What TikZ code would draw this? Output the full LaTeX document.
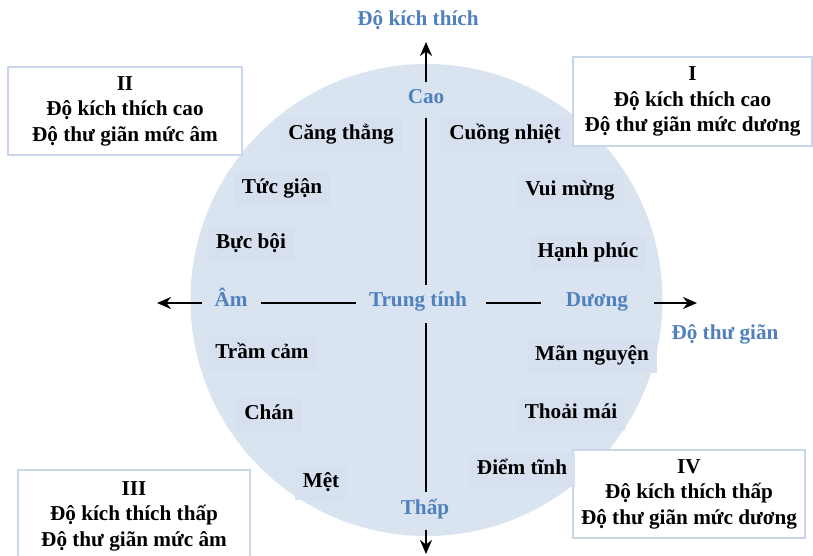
\documentclass[tikz,border=0pt]{standalone}
\usepackage{fontspec}
\setmainfont{Liberation Serif}
\usetikzlibrary{arrows.meta}
\definecolor{circfill}{HTML}{DAE3F0}
\definecolor{labfill}{HTML}{D6E0EF}
\definecolor{axblue}{HTML}{4F81BD}
\definecolor{boxline}{HTML}{C9D6EA}
\begin{document}
\begin{tikzpicture}[x=1pt,y=-1pt,
  font=\fontsize{21.2}{25.5}\selectfont\bfseries,
  emo/.style={fill=labfill, inner xsep=8pt, inner ysep=8pt, text height=14pt, text depth=4.5pt, yshift=-2pt},
  axlab/.style={text=axblue, inner sep=0pt, text height=14pt, text depth=4.5pt},
  quad/.style={draw=boxline, line width=1.5pt, fill=white, align=center, inner sep=0pt},
  axisline/.style={line width=2.2pt},
  arr/.style={axisline, -{Stealth[length=14pt,width=12pt,inset=4.5pt]}}]
\useasboundingbox (0,0) rectangle (813,556);
\fill[circfill] (426.5,300) circle[radius=236pt];

% quadrant boxes
\node[quad, minimum width=234pt, minimum height=88pt] (q2) at (125,111) {II\\Độ kích thích cao\\Độ thư giãn mức âm};
\node[quad, minimum width=239pt, minimum height=89pt] (q1) at (692.5,101.5) {I\\Độ kích thích cao\\Độ thư giãn mức dương};
\node[quad, minimum width=232pt, minimum height=92pt] (q3) at (134,516) {III\\Độ kích thích thấp\\Độ thư giãn mức âm};
\node[quad, minimum width=232pt, minimum height=88pt] (q4) at (689,494) {IV\\Độ kích thích thấp\\Độ thư giãn mức dương};

% axis titles
\node[text=axblue] (ytitle) at (418,20) {Độ kích thích};
\node[text=axblue] (xtitle) at (725,334) {Độ thư giãn};

% axis labels
\node[axlab] (cao) at (426,99) {Cao};
\node[axlab] (tt) at (418,302) {Trung tính};
\node[axlab] (am) at (231,302) {Âm};
\node[axlab] (duong) at (597,302) {Dương};
\node[axlab] (thap) at (425,510) {Thấp};

\coordinate (topend) at (426,42);
\coordinate (botend) at (426,554);
\coordinate (leftend) at (157,303);
\coordinate (rightend) at (697,303);

% vertical axis
\draw[arr, shorten <=8pt] (cao.north) -- (topend);
\draw[axisline, shorten <=9.5pt, shorten >=7.5pt] (cao.south) -- (cao.south |- tt.north);
\draw[axisline, shorten <=12pt, shorten >=9pt] (cao.south |- tt.south) -- (cao.south |- thap.north);
\draw[arr, shorten <=10.5pt] (cao.south |- thap.south) -- (botend);

% horizontal axis
\draw[arr, shorten <=12pt] (am.west |- leftend) -- (leftend);
\draw[axisline, shorten <=13pt, shorten >=13pt] (am.east |- leftend) -- (tt.west |- leftend);
\draw[axisline, shorten <=19pt, shorten >=25pt] (tt.east |- leftend) -- (duong.west |- leftend);
\draw[arr, shorten <=26pt] (duong.east |- leftend) -- (rightend);

% emotions
\node[emo] (e1) at (341,133) {Căng thẳng};
\node[emo] (e2) at (505,133) {Cuồng nhiệt};
\node[emo] (e3) at (282,187) {Tức giận};
\node[emo] (e4) at (570,189) {Vui mừng};
\node[emo] (e5) at (251,242) {Bực bội};
\node[emo] (e6) at (588,251) {Hạnh phúc};
\node[emo] (e7) at (262,352) {Trầm cảm};
\node[emo] (e8) at (592,354) {Mãn nguyện};
\node[emo] (e9) at (269,413) {Chán};
\node[emo] (e10) at (571,412) {Thoải mái};
\node[emo] (e11) at (522,468) {Điểm tĩnh};
\node[emo] (e12) at (321,481) {Mệt};
\end{tikzpicture}
\end{document}
